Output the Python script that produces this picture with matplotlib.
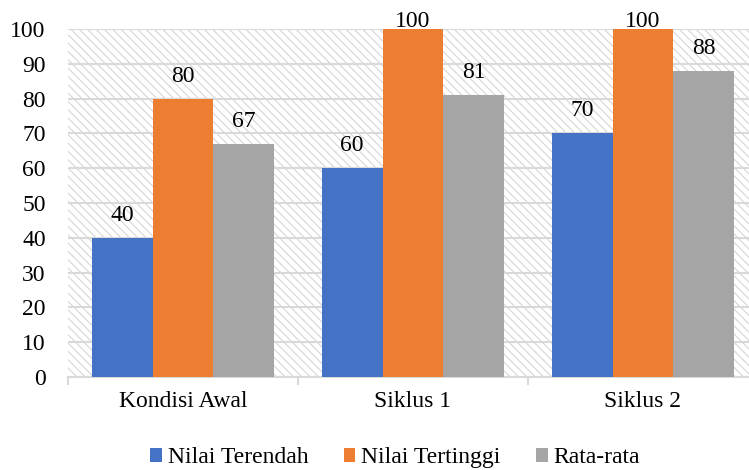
import numpy as np
import matplotlib; matplotlib.use("Agg")
import matplotlib.pyplot as plt
from matplotlib.patches import Rectangle

categories = ["Kondisi Awal", "Siklus 1", "Siklus 2"]
series = ["Nilai Terendah", "Nilai Tertinggi", "Rata-rata"]
terendah = [40, 60, 70]
tertinggi = [80, 100, 100]
rata = [67, 81, 88]
colors = ["#4472C4", "#ED7D31", "#A5A5A5"]

plt.rcParams["font.family"] = ["Liberation Serif", "DejaVu Serif"]
plt.rcParams["hatch.color"] = "#d6d6d6"
plt.rcParams["hatch.linewidth"] = 0.8

FS = 17
W, H = 749, 470
fig = plt.figure(figsize=(W / 100, H / 100), dpi=100)
# axes runs slightly past the right edge, like the original
ax = fig.add_axes([68 / W, 1 - 377 / H, 690 / W, (377 - 29) / H])

bg = Rectangle((0, 0), 1, 1, transform=ax.transAxes, facecolor="white",
               edgecolor="#d6d6d6", hatch="\\\\\\\\", linewidth=0, zorder=0)
ax.add_patch(bg)

ax.set_xlim(-0.5, 2.5)
ax.set_ylim(0, 100)

x = np.arange(len(categories))
w = 0.265
for i, (name, vals) in enumerate(zip(series, [terendah, tertinggi, rata])):
    bars = ax.bar(x + (i - 1) * w, vals, w, color=colors[i], label=name, zorder=3)
    for b, v in zip(bars, vals):
        cx = b.get_x() + b.get_width() / 2
        top_px = H - ax.transData.transform((cx, v))[1]   # from figure top
        off = min(17, top_px - 27)   # labels at the top get pushed down to stay inside
        ax.annotate(f"{v}", (cx, v), xytext=(0, off * 0.72),
                    textcoords="offset points", ha="center", va="baseline", fontsize=FS)

ax.set_yticks(range(0, 101, 10))
ax.yaxis.grid(True, color="#d9d9d9", linewidth=1.5, zorder=1)
ax.set_axisbelow(True)
ax.tick_params(axis="y", length=0, labelsize=FS, pad=16)
ax.set_xticks(x)
ax.set_xticklabels(categories)
ax.tick_params(axis="x", length=0, labelsize=FS, pad=10)
ax.set_xticks([-0.5, 0.5, 1.5, 2.5], minor=True)
ax.tick_params(axis="x", which="minor", length=6, color="#d9d9d9", width=1.5)
for s in ["top", "right", "left"]:
    ax.spines[s].set_visible(False)
ax.spines["bottom"].set_color("#d9d9d9")
ax.spines["bottom"].set_linewidth(1.5)

ax.legend(loc="lower center", bbox_to_anchor=(0.474, -0.262), ncol=3, frameon=False,
          fontsize=FS, handlelength=0.5, handleheight=0.5, handletextpad=0.25,
          columnspacing=1.5, borderaxespad=0, borderpad=0)

fig.savefig("out.png", dpi=100)
